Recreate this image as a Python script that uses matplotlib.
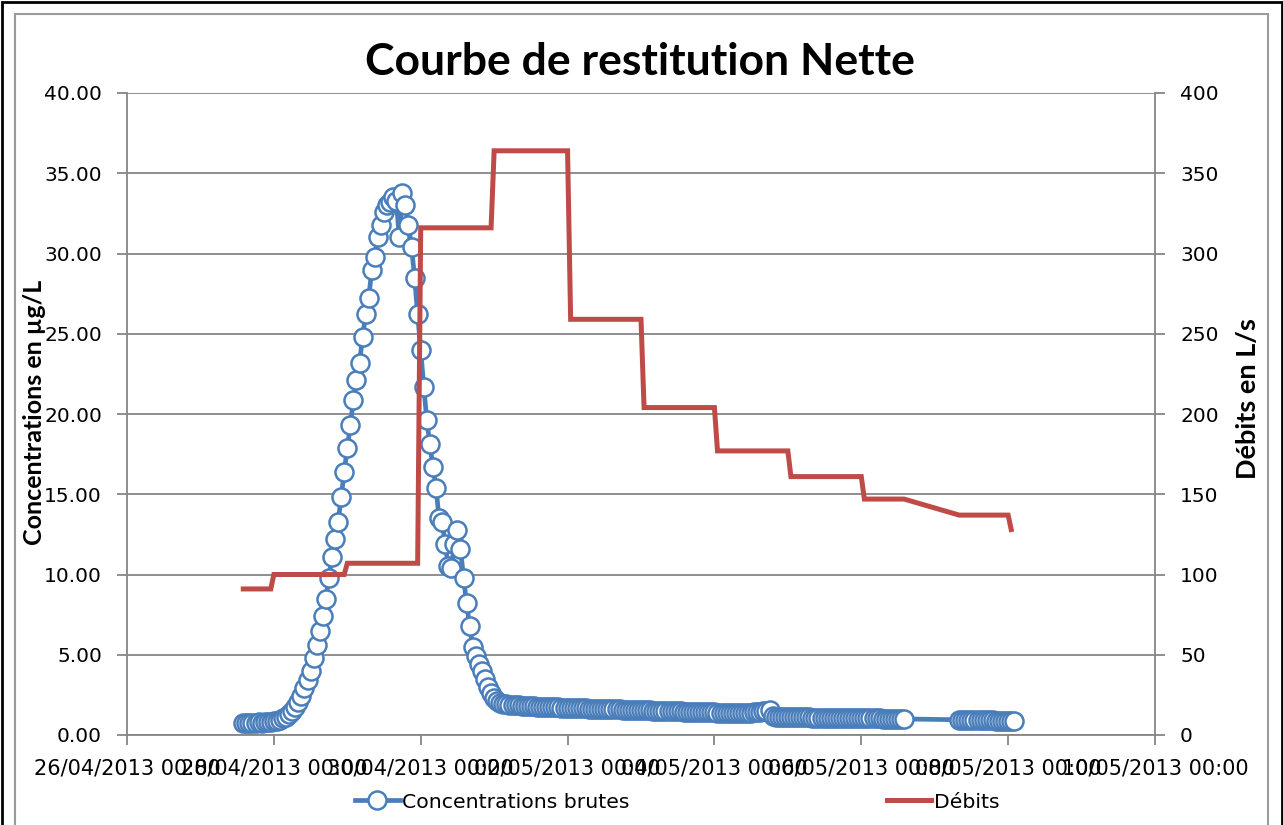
import numpy as np
import pandas as pd
import matplotlib
matplotlib.use("Agg")
import matplotlib.pyplot as plt
import matplotlib.dates as mdates
from matplotlib.patches import Rectangle
from matplotlib.ticker import MultipleLocator, FormatStrFormatter


# Concentrations brutes (µg/L), mesures horaires
# premier bloc : à partir du 27/04/2013 14:00
conc_debut_1 = "2013-04-27 14:00"
conc_bloc_1 = [
    0.75, 0.72, 0.74, 0.76, 0.75, 0.78, 0.77, 0.80, 0.79, 0.82,
    0.85, 0.88, 0.95, 1.05, 1.15, 1.30,
    # montée
    1.5, 1.75, 2.05, 2.45, 2.9, 3.4, 4.0, 4.8, 5.6, 6.5, 7.4, 8.5, 9.8, 11.1,
    12.2, 13.3, 14.8, 16.4, 17.9, 19.3, 20.9, 22.1, 23.2, 24.8, 26.2, 27.2,
    29.0, 29.8, 31.0, 31.8, 32.6, 33.0, 33.2, 33.5, 33.3, 31.0, 33.8,
    # descente
    33.0, 31.8, 30.4, 28.5, 26.2, 24.0, 21.7, 19.6, 18.1, 16.7, 15.4, 13.5,
    13.3, 11.9, 10.5, 10.4, 11.9, 12.8, 11.6, 9.8, 8.2, 6.8, 5.5, 4.9, 4.4,
    4.0, 3.5, 3.0, 2.6, 2.3, 2.1, 2.0,
    # traîne
    1.95, 1.92, 1.90, 1.88, 1.86, 1.85, 1.83, 1.82, 1.80, 1.80, 1.78,
    1.77, 1.76, 1.75, 1.74, 1.74, 1.73, 1.72, 1.72, 1.71, 1.70, 1.70, 1.69,
    1.68, 1.68, 1.67, 1.66, 1.66, 1.65, 1.65, 1.64, 1.63, 1.63, 1.62, 1.62,
    1.61, 1.60, 1.60, 1.59, 1.58, 1.58, 1.57, 1.56, 1.56, 1.55, 1.55, 1.54,
    1.53, 1.53, 1.52, 1.52, 1.51, 1.50, 1.50, 1.49, 1.49, 1.48, 1.47, 1.47,
    1.46, 1.46, 1.45, 1.45, 1.44, 1.43, 1.43, 1.42, 1.42, 1.41, 1.41, 1.40,
    1.40, 1.39, 1.39, 1.39, 1.38, 1.38, 1.38, 1.39, 1.39, 1.40, 1.40, 1.41,
    1.42, 1.44, 1.47, 1.50, 1.55, 1.18, 1.14, 1.13, 1.13, 1.12, 1.12, 1.12,
    1.11, 1.11, 1.11, 1.10, 1.10, 1.10, 1.09, 1.09, 1.09, 1.08, 1.08, 1.08,
    1.07, 1.07, 1.07, 1.06, 1.06, 1.06, 1.05, 1.05, 1.05, 1.05, 1.04, 1.04,
    1.04, 1.03, 1.03, 1.03, 1.03, 1.02, 1.02, 1.02, 1.02, 1.01, 1.01, 1.01,
    1.00,
]
# second bloc : à partir du 07/05/2013 08:00
conc_debut_2 = "2013-05-07 08:00"
conc_bloc_2 = [
    0.95, 0.94, 0.94, 0.93, 0.93, 0.93, 0.92, 0.92, 0.92, 0.91,
    0.91, 0.91, 0.90, 0.90, 0.90, 0.90, 0.89, 0.89, 0.89,
]

# Débits (L/s)
debit_dates = [
    "2013-04-27 14:00", "2013-04-27 23:00", "2013-04-28 00:00", "2013-04-28 23:00",
    "2013-04-29 00:00", "2013-04-29 23:00", "2013-04-30 00:00", "2013-04-30 23:00",
    "2013-05-01 00:00", "2013-05-02 00:00", "2013-05-02 01:00", "2013-05-03 00:00",
    "2013-05-03 01:00", "2013-05-04 00:00", "2013-05-04 01:00", "2013-05-05 00:00",
    "2013-05-05 01:00", "2013-05-06 00:00", "2013-05-06 01:00", "2013-05-06 14:00",
    "2013-05-07 08:00", "2013-05-08 00:00", "2013-05-08 01:00",
]
debit_valeurs = [
    91, 91, 100, 100, 107, 107, 316, 316, 364, 364, 259, 259,
    204, 204, 177, 177, 161, 161, 147, 147, 137, 137, 128,
]

conc_dates = pd.date_range(conc_debut_1, periods=len(conc_bloc_1), freq="h").append(
    pd.date_range(conc_debut_2, periods=len(conc_bloc_2), freq="h"))
conc = np.array(conc_bloc_1 + conc_bloc_2)
debit_dates = pd.to_datetime(debit_dates)

bleu = "#4A7EBB"
rouge = "#BE4B48"
gris = "#868686"

W, H = 1283, 825
fig = plt.figure(figsize=(W / 100, H / 100), dpi=100)
fig.patch.set_facecolor("white")

# cadres autour du graphique
fig.add_artist(Rectangle((1.5 / W, -0.1), (W - 3) / W, 1.1 - 2 / H, transform=fig.transFigure,
                         fill=False, ec="black", lw=2))
fig.add_artist(Rectangle((14.5 / W, -0.1), (1268 - 14.5) / W, 1.1 - 14 / H, transform=fig.transFigure,
                         fill=False, ec="#9a9a9a", lw=1.5))

ax = fig.add_axes([127 / W, 1 - 735 / H, (1155 - 127) / W, (735 - 93) / H])
ax2 = ax.twinx()

ax.plot(conc_dates, conc, color=bleu, lw=3.4, marker="o", ms=13, mfc="white",
        mec=bleu, mew=1.8, label="Concentrations brutes", zorder=3)
ax2.plot(debit_dates, debit_valeurs, color=rouge, lw=3.6, label="Débits",
         solid_joinstyle="miter")

ax.set_xlim(pd.Timestamp("2013-04-26"), pd.Timestamp("2013-05-10"))
ax.set_ylim(0, 40)
ax2.set_ylim(0, 400)
ax.yaxis.set_major_locator(MultipleLocator(5))
ax.yaxis.set_major_formatter(FormatStrFormatter("%.2f"))
ax2.yaxis.set_major_locator(MultipleLocator(50))
ax.xaxis.set_major_locator(mdates.DayLocator(interval=2))
ax.xaxis.set_major_formatter(mdates.DateFormatter("%d/%m/%Y %H:%M"))

ax.grid(axis="y", color=gris, lw=1.3)
ax.set_axisbelow(True)
for a in (ax, ax2):
    for s in a.spines.values():
        s.set_color(gris)
        s.set_linewidth(1.3)
    a.spines["top"].set_visible(False)
ax.spines["right"].set_visible(False)
ax2.spines["left"].set_visible(False)
ax2.spines["bottom"].set_visible(False)

ax.tick_params(axis="y", direction="out", length=7, width=1.3, color=gris, pad=11, labelsize=14.5)
ax.tick_params(axis="x", direction="out", length=7, width=1.3, color=gris, pad=10, labelsize=15)
ax2.tick_params(axis="y", direction="out", length=7, width=1.3, color=gris, pad=11, labelsize=14.5)

etroite = ["Lato", "DejaVu Sans"]
fig.text(640 / W, 1 - 62 / H, "Courbe de restitution Nette", ha="center", va="center",
         fontsize=32, fontweight="bold", family=etroite)
fig.text(35 / W, 1 - 412 / H, "Concentrations en µg/L", ha="center", va="center",
         rotation=90, fontsize=18, fontweight="bold", family=etroite)
fig.text(1248 / W, 1 - 399 / H, "Débits en L/s", ha="center", va="center",
         rotation=90, fontsize=19.5, fontweight="bold", family=etroite)

h1, l1 = ax.get_legend_handles_labels()
h2, l2 = ax2.get_legend_handles_labels()
fig.legend(h1 + h2, l1 + l2, loc="center", bbox_to_anchor=(677 / W, 1 - 802 / H), ncol=2,
           frameon=False, fontsize=14.7, handlelength=2.2, handletextpad=0.1,
           columnspacing=12.6, numpoints=1)

fig.savefig("out.png", dpi=100)
